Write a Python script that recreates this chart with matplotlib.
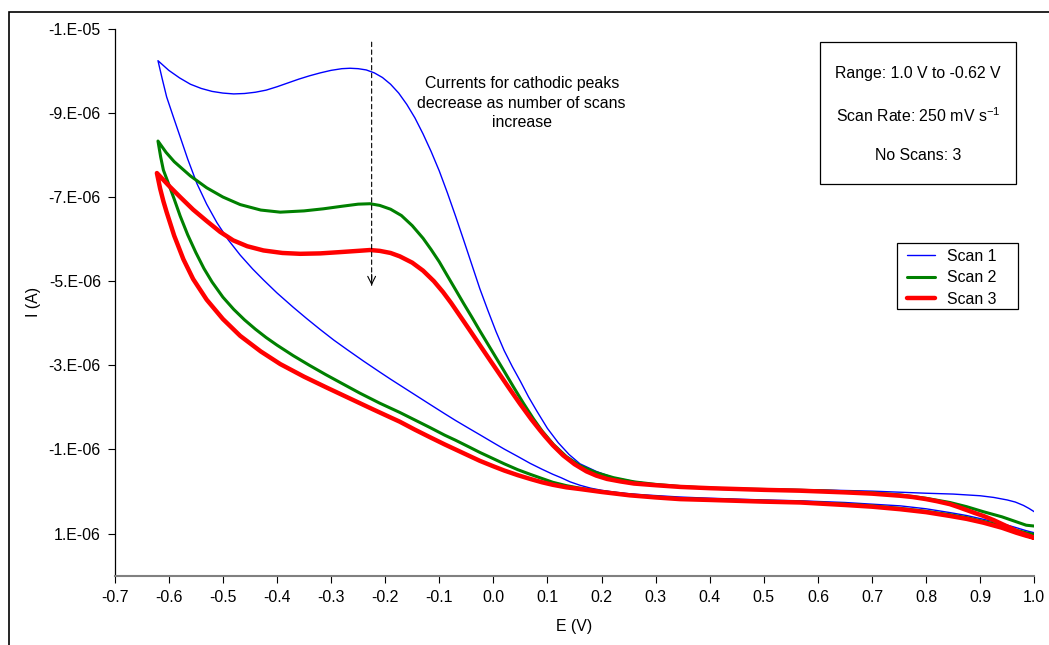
import matplotlib
matplotlib.use("Agg")
import matplotlib.pyplot as plt
from matplotlib.patches import Rectangle
import numpy as np

plt.rcParams['font.family'] = ['Liberation Sans', 'DejaVu Sans']
plt.rcParams['mathtext.fontset'] = 'custom'
plt.rcParams['mathtext.rm'] = 'Liberation Sans'
plt.rcParams['mathtext.it'] = 'Liberation Sans:italic'

# ---------------- data (E in V, I in microamps) ----------------
# Scan 1: 1.0 V -> -0.62 V -> 1.0 V
scan1_E = [1.0, 0.99, 0.98, 0.965, 0.95, 0.925, 0.9, 0.85, 0.8, 0.7, 0.6, 0.5, 0.4, 0.345, 0.3,
           0.26, 0.222, 0.19, 0.16, 0.14, 0.12, 0.10, 0.08, 0.065, 0.05, 0.035, 0.02, 0.005,
           -0.01, -0.025, -0.04, -0.055, -0.07, -0.085, -0.10, -0.115, -0.13, -0.145, -0.16,
           -0.175, -0.19, -0.205, -0.22, -0.235, -0.25, -0.265, -0.28, -0.30, -0.32, -0.34,
           -0.36, -0.38, -0.40, -0.42, -0.44, -0.46, -0.48, -0.50, -0.52, -0.54, -0.56, -0.58,
           -0.60, -0.62,
           -0.612, -0.604, -0.592, -0.579, -0.565, -0.548, -0.53, -0.511, -0.49, -0.468, -0.445,
           -0.425, -0.40, -0.37, -0.345, -0.32, -0.295, -0.27, -0.24, -0.21, -0.19, -0.173,
           -0.145, -0.117, -0.09, -0.07, -0.045, -0.025, 0.0, 0.02, 0.045, 0.068, 0.09, 0.11,
           0.125, 0.142, 0.16, 0.18, 0.20, 0.222, 0.25, 0.28, 0.345, 0.382, 0.45, 0.50, 0.567,
           0.65, 0.70, 0.752, 0.80, 0.844, 0.875, 0.906, 0.94, 0.967, 0.985, 1.0]
scan1_I = [0.48, 0.40, 0.33, 0.25, 0.20, 0.14, 0.10, 0.06, 0.04, -0.01, -0.04, -0.06, -0.09,
           -0.13, -0.17, -0.24, -0.33, -0.48, -0.66, -0.88, -1.16, -1.50, -1.92, -2.25, -2.62,
           -2.97, -3.35, -3.80, -4.30, -4.82, -5.40, -5.98, -6.55, -7.10, -7.62, -8.08, -8.50,
           -8.88, -9.20, -9.47, -9.68, -9.84, -9.95, -10.02, -10.05, -10.06, -10.05, -10.01,
           -9.95, -9.88, -9.80, -9.71, -9.62, -9.54, -9.49, -9.46, -9.45, -9.47, -9.51, -9.58,
           -9.68, -9.83, -10.01, -10.24,
           -9.80, -9.38, -8.92, -8.43, -7.90, -7.32, -6.83, -6.39, -5.98, -5.62, -5.29,
           -5.03, -4.72, -4.38, -4.11, -3.85, -3.60, -3.37, -3.10, -2.84, -2.67, -2.53,
           -2.30, -2.07, -1.85, -1.69, -1.50, -1.35, -1.16, -1.01, -0.835, -0.67, -0.53, -0.41,
           -0.33, -0.23, -0.15, -0.08, -0.03, 0.01, 0.05, 0.08, 0.13, 0.15, 0.18, 0.20, 0.22,
           0.26, 0.30, 0.34, 0.41, 0.50, 0.57, 0.66, 0.76, 0.86, 0.93, 0.98]

# Scan 2
scan2_E = [1.0, 0.985, 0.967, 0.94, 0.906, 0.875, 0.844, 0.80, 0.752, 0.70, 0.60, 0.50, 0.45,
           0.40, 0.345, 0.30, 0.26, 0.222, 0.19, 0.16, 0.135, 0.111, 0.09, 0.074, 0.055, 0.037,
           0.02, 0.005, -0.01, -0.025, -0.04, -0.055, -0.07, -0.086, -0.10, -0.115, -0.13,
           -0.15, -0.17, -0.19, -0.21, -0.228, -0.25, -0.28, -0.314, -0.35, -0.394, -0.43,
           -0.468, -0.50, -0.53, -0.56, -0.59, -0.605, -0.62,
           -0.615, -0.61, -0.60, -0.59, -0.579, -0.565, -0.55, -0.535, -0.52, -0.50, -0.48,
           -0.46, -0.44, -0.42, -0.40, -0.37, -0.34, -0.31, -0.28, -0.247, -0.21, -0.173,
           -0.145, -0.117, -0.09, -0.07, -0.045, -0.025, 0.0, 0.02, 0.045, 0.068, 0.09, 0.11,
           0.135, 0.16, 0.20, 0.25, 0.30, 0.345, 0.40, 0.45, 0.50, 0.567, 0.65, 0.70, 0.752,
           0.80, 0.844, 0.875, 0.906, 0.94, 0.967, 0.985, 1.0]
scan2_I = [0.82, 0.80, 0.72, 0.60, 0.48, 0.36, 0.26, 0.16, 0.08, 0.03, -0.02, -0.05, -0.06,
           -0.08, -0.12, -0.17, -0.23, -0.33, -0.45, -0.615, -0.83, -1.12, -1.44, -1.73, -2.11,
           -2.49, -2.86, -3.18, -3.50, -3.82, -4.15, -4.47, -4.80, -5.15, -5.46, -5.75, -6.02,
           -6.32, -6.56, -6.71, -6.80, -6.84, -6.83, -6.78, -6.72, -6.67, -6.64, -6.69,
           -6.82, -7.00, -7.22, -7.50, -7.84, -8.06, -8.33,
           -7.95, -7.64, -7.30, -6.95, -6.55, -6.10, -5.68, -5.30, -4.98, -4.62, -4.33,
           -4.08, -3.86, -3.66, -3.48, -3.23, -3.00, -2.78, -2.57, -2.34, -2.10, -1.88,
           -1.70, -1.52, -1.34, -1.22, -1.06, -0.93, -0.78, -0.66, -0.52, -0.41, -0.31, -0.22,
           -0.14, -0.08, 0.00, 0.08, 0.13, 0.17, 0.19, 0.21, 0.23, 0.25, 0.30, 0.34, 0.40,
           0.47, 0.55, 0.62, 0.71, 0.81, 0.92, 0.98, 1.02]

# Scan 3
scan3_E = [1.0, 0.99, 0.977, 0.967, 0.955, 0.94, 0.925, 0.906, 0.89, 0.875, 0.86, 0.844, 0.82,
           0.80, 0.775, 0.752, 0.70, 0.65, 0.567, 0.50, 0.45, 0.40, 0.345, 0.30, 0.26, 0.235,
           0.21, 0.19, 0.172, 0.15, 0.129, 0.11, 0.095, 0.086, 0.07, 0.049, 0.03, 0.012,
           -0.005, -0.025, -0.045, -0.062, -0.078, -0.093, -0.11, -0.13, -0.15, -0.173, -0.19,
           -0.21, -0.228, -0.25, -0.284, -0.32, -0.357, -0.39, -0.425, -0.455, -0.481, -0.505,
           -0.53, -0.555, -0.579, -0.60, -0.622,
           -0.616, -0.61, -0.604, -0.59, -0.573, -0.555, -0.53, -0.50, -0.468, -0.43, -0.394,
           -0.35, -0.308, -0.265, -0.222, -0.195, -0.173, -0.145, -0.117, -0.09, -0.07, -0.045,
           -0.025, 0.0, 0.02, 0.045, 0.068, 0.09, 0.11, 0.135, 0.16, 0.20, 0.252, 0.30, 0.345,
           0.40, 0.45, 0.50, 0.567, 0.65, 0.70, 0.752, 0.80, 0.844, 0.875, 0.906, 0.94, 0.967,
           0.985, 1.0]
scan3_I = [1.10, 1.05, 0.99, 0.94, 0.86, 0.77, 0.68, 0.58, 0.51, 0.44, 0.37, 0.30, 0.23,
           0.18, 0.13, 0.10, 0.05, 0.02, -0.02, -0.04, -0.06, -0.08, -0.11, -0.15, -0.19, -0.24,
           -0.30, -0.38, -0.48, -0.65, -0.86, -1.10, -1.32, -1.46, -1.72, -2.09, -2.44, -2.78,
           -3.10, -3.48, -3.86, -4.18, -4.48, -4.74, -5.00, -5.25, -5.44, -5.59, -5.67,
           -5.72, -5.74, -5.72, -5.69, -5.66, -5.65, -5.67, -5.73, -5.83, -5.97, -6.17,
           -6.43, -6.70, -7.00, -7.27, -7.57,
           -7.20, -6.90, -6.64, -6.08, -5.52, -5.05, -4.56, -4.10, -3.70, -3.33, -3.03,
           -2.73, -2.47, -2.21, -1.95, -1.79, -1.66, -1.47, -1.29, -1.12, -1.00, -0.85,
           -0.73, -0.60, -0.50, -0.39, -0.30, -0.22, -0.16, -0.10, -0.06, 0.01, 0.09, 0.14, 0.18,
           0.20, 0.22, 0.24, 0.26, 0.32, 0.36, 0.42, 0.49, 0.58, 0.65, 0.74, 0.86, 0.98,
           1.05, 1.10]

series_labels = ["Scan 1", "Scan 2", "Scan 3"]
series_colors = ["#0000FF", "#008000", "#FF0000"]
series_widths = [1.0, 2.2, 3.2]

x_ticks = [-0.7, -0.6, -0.5, -0.4, -0.3, -0.2, -0.1, 0.0, 0.1, 0.2, 0.3, 0.4, 0.5, 0.6, 0.7, 0.8, 0.9, 1.0]
y_ticks = [1e-6, -1e-6, -3e-6, -5e-6, -7e-6, -9e-6, -1.1e-5]
y_tick_labels = ["1.E-06", "-1.E-06", "-3.E-06", "-5.E-06", "-7.E-06", "-9.E-06", "-1.E-05"]

info_lines = ["Range: 1.0 V to -0.62 V", "Scan Rate: 250 mV s$^{\\mathrm{-1}}$", "No Scans: 3"]
note_text = "Currents for cathodic peaks\ndecrease as number of scans\nincrease"

FS = 11.4

# ---------------- figure ----------------
W, H = 1049, 645
fig = plt.figure(figsize=(W / 100, H / 100), dpi=100)
fig.patch.set_facecolor('white')

def fx(px):
    return px / W

def fy(py):
    return 1 - py / H

ax_l, ax_r, ax_t, ax_b = 114.7, 1034.3, 28.7, 575.7
ax = fig.add_axes([fx(ax_l), fy(ax_b), fx(ax_r) - fx(ax_l), fy(ax_t) - fy(ax_b)])

data = [(scan1_E, scan1_I), (scan2_E, scan2_I), (scan3_E, scan3_I)]
for (E, I), lab, col, lw in zip(data, series_labels, series_colors, series_widths):
    ax.plot(E, np.array(I) * 1e-6, color=col, lw=lw, label=lab, solid_joinstyle='round',
            solid_capstyle='round')

ax.set_xlim(-0.7, 1.0)
ax.set_ylim(2e-6, -1.1e-5)
ax.set_xticks(x_ticks)
ax.set_xticklabels([f"{t:.1f}" for t in x_ticks])
ax.set_yticks(y_ticks)
ax.set_yticklabels(y_tick_labels)
ax.tick_params(axis='both', direction='out', length=5, width=0.8, labelsize=FS, colors='black')
ax.tick_params(axis='x', pad=5)
ax.tick_params(axis='y', pad=5)

for s in ['top', 'right']:
    ax.spines[s].set_visible(False)
ax.spines['left'].set_linewidth(0.9)
ax.spines['left'].set_color('black')
ax.spines['bottom'].set_linewidth(1.5)
ax.spines['bottom'].set_color('#808080')

ax.set_xlabel("E (V)", fontsize=FS)
ax.set_ylabel("I (A)", fontsize=FS)
ax.xaxis.set_label_coords(0.5, (ax_b - 619) / (ax_b - ax_t))
ax.yaxis.set_label_coords((41 - ax_l) / (ax_r - ax_l), 0.5)

# dashed arrow
arrow_x = -0.225
ax.annotate('', xy=(arrow_x, -4.90e-6), xytext=(arrow_x, -10.68e-6),
            arrowprops=dict(arrowstyle='-', linestyle=(0, (4, 3)), lw=0.8, color='black',
                            shrinkA=0, shrinkB=0))
ax.annotate('', xy=(arrow_x, -4.90e-6), xytext=(0, 8), textcoords='offset points',
            arrowprops=dict(arrowstyle='->', lw=0.8, color='black', shrinkA=0, shrinkB=0,
                            mutation_scale=14))

fig.text(fx(521.7), fy(103), note_text, ha='center', va='center', fontsize=FS,
         linespacing=1.4)

# info box
fig.patches.append(Rectangle((fx(820), fy(184.3)), fx(1016) - fx(820), fy(42.3) - fy(184.3),
                             transform=fig.transFigure, fill=False, edgecolor='black', lw=0.9))
for line, py in zip(info_lines, [73.3, 116, 155]):
    fig.text(fx(918), fy(py), line, ha='center', va='center', fontsize=FS)

# legend (frame drawn separately)
leg = ax.legend(loc='upper left',
                bbox_to_anchor=((907 - ax_l) / (ax_r - ax_l), (ax_b - 249) / (ax_b - ax_t)),
                fontsize=FS, frameon=False, handlelength=1.75, handletextpad=0.8,
                labelspacing=0.4, borderpad=0, borderaxespad=0)
fig.patches.append(Rectangle((fx(896.7), fy(309)), fx(1017.7) - fx(896.7), fy(243.3) - fy(309),
                             transform=fig.transFigure, fill=False, edgecolor='black', lw=0.9))

# outer border
fig.patches.append(Rectangle((fx(9), fy(700)), fx(1200) - fx(9), fy(12) - fy(700),
                             transform=fig.transFigure, fill=False, edgecolor='black', lw=1.2))

fig.savefig("out.png", dpi=100)
